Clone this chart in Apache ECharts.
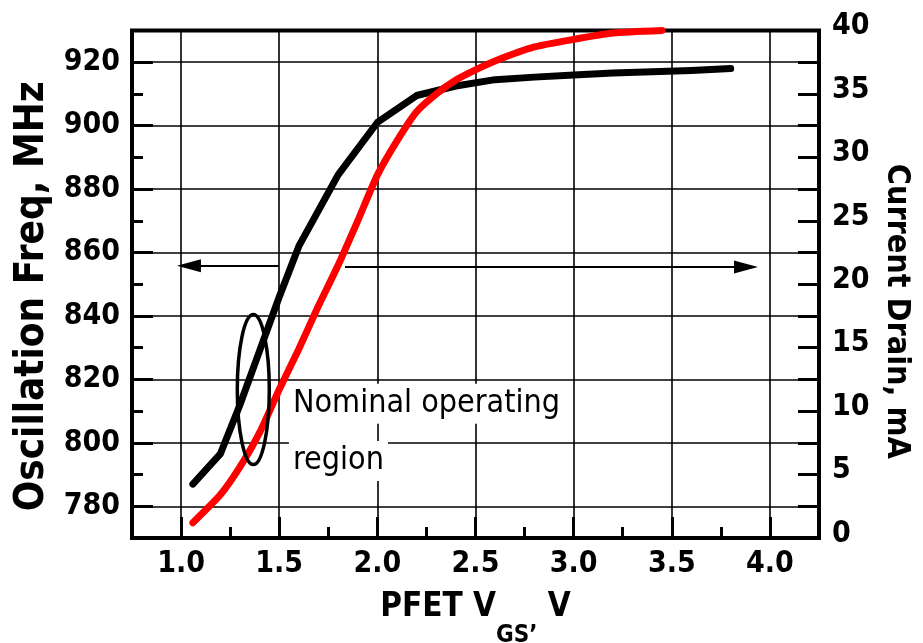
<!DOCTYPE html>
<html>
<head>
<meta charset="utf-8">
<script src="https://cdn.jsdelivr.net/npm/echarts@6/dist/echarts.min.js"></script>
<style>
  html, body { margin: 0; padding: 0; background: #fff; }
  #main { width: 923px; height: 643px; }
</style>
</head>
<body>
<div id="main"></div>
<script>
// oscillation frequency (MHz) vs PFET Vgs (V)
const vgsFreq = [1.06, 1.2, 1.3, 1.4, 1.5, 1.6, 1.8, 2.0, 2.2, 2.4, 2.6, 2.8, 3.0, 3.2, 3.4, 3.6, 3.8];
const freq = [787, 796.5, 812, 829, 846, 862, 884.5, 901, 909.5, 912.5, 914.5, 915.3, 916, 916.6, 917, 917.4, 918];

// current drain (mA) vs PFET Vgs (V)
const vgsCurrent = [1.06, 1.2, 1.3, 1.4, 1.5, 1.6, 1.7, 1.8, 1.9, 2.0, 2.1, 2.2, 2.3, 2.4, 2.5, 2.6, 2.8, 3.0, 3.2, 3.45];
const current = [1.2, 3.4, 5.6, 8.3, 11.7, 14.9, 18.3, 21.5, 25.0, 28.6, 31.3, 33.6, 35.0, 36.1, 36.9, 37.6, 38.7, 39.3, 39.8, 40];

// labelled ticks
const xTicks = [1.0, 1.5, 2.0, 2.5, 3.0, 3.5, 4.0];
const freqTicks = [780, 800, 820, 840, 860, 880, 900, 920];

const FONT = "'DejaVu Sans Condensed', 'DejaVu Sans', sans-serif";

const zip = (xs, ys) => xs.map((x, i) => [x, ys[i]]);

const labelStyle = {
  color: '#000',
  fontFamily: FONT,
  fontWeight: 'bold',
  fontSize: 30
};

const option = {
  animation: false,
  backgroundColor: '#fff',
  grid: {
    left: 132,
    right: 104,
    top: 30.5,
    bottom: 105,
    outerBoundsMode: 'none',
    show: true,
    borderColor: '#000',
    borderWidth: 4
  },
  xAxis: [{
    // minor ticks every 0.25 V
    type: 'value',
    min: 0.75,
    max: 4.25,
    interval: 0.25,
    position: 'bottom',
    axisLine: { show: false },
    axisTick: { inside: true, length: 11, lineStyle: { color: '#000', width: 3 } },
    axisLabel: { show: false },
    splitLine: { show: false }
  }, {
    type: 'value',
    min: 0.75,
    max: 4.25,
    position: 'bottom',
    axisLine: { show: false },
    axisTick: { inside: true, length: 21, customValues: xTicks, lineStyle: { color: '#000', width: 3 } },
    axisLabel: Object.assign({ customValues: xTicks, margin: 11, formatter: v => v.toFixed(1) }, labelStyle),
    splitLine: { show: false },
    name: '{main|PFET V}{sub|GS’}{main| V}',
    nameLocation: 'middle',
    nameGap: 53,
    nameTextStyle: {
      color: '#000',
      rich: {
        main: { fontFamily: FONT, fontWeight: 'bold', fontSize: 33, verticalAlign: 'top' },
        sub: { fontFamily: FONT, fontWeight: 'bold', fontSize: 24, verticalAlign: 'top', padding: [33, 0, 0, 0] }
      }
    }
  }],
  yAxis: [{
    // minor ticks every 10 MHz
    type: 'value',
    min: 770,
    max: 930,
    interval: 10,
    position: 'left',
    axisLine: { show: false },
    axisTick: { inside: true, length: 11, lineStyle: { color: '#000', width: 3 } },
    axisLabel: { show: false },
    splitLine: { show: false }
  }, {
    type: 'value',
    min: 770,
    max: 930,
    position: 'left',
    axisLine: { show: false },
    axisTick: { inside: true, length: 21, customValues: freqTicks, lineStyle: { color: '#000', width: 3 } },
    axisLabel: Object.assign({ customValues: freqTicks, margin: 12 }, labelStyle),
    splitLine: { show: false },
    name: 'Oscillation Freq, MHz',
    nameLocation: 'middle',
    nameRotate: 90,
    nameGap: 78,
    nameTextStyle: {
      color: '#000',
      fontFamily: FONT,
      fontWeight: 'bold',
      fontSize: 40,
      padding: [0, 24, 0, 0]
    }
  }, {
    type: 'value',
    min: 0,
    max: 40,
    interval: 2.5,
    position: 'right',
    axisLine: { show: false },
    axisTick: { inside: true, length: 21, lineStyle: { color: '#000', width: 3 } },
    axisLabel: {
      margin: 13,
      formatter: v => (v % 5 === 0 ? '{n|' + v + '}' : ''),
      rich: {
        n: Object.assign({ padding: [0, 0, 8, 0] }, labelStyle)
      }
    },
    splitLine: { show: false },
    name: 'Current Drain, mA',
    nameLocation: 'middle',
    nameRotate: -90,
    nameGap: 59,
    nameTextStyle: {
      color: '#000',
      fontFamily: FONT,
      fontWeight: 'bold',
      fontSize: 32,
      padding: [0, 0, 0, 54]
    }
  }],
  series: [{
    // grid lines
    type: 'line',
    data: [],
    xAxisIndex: 0,
    yAxisIndex: 0,
    silent: true,
    markLine: {
      z: 1,
      silent: true,
      animation: false,
      symbol: ['none', 'none'],
      label: { show: false },
      lineStyle: { color: '#000', width: 1.6, type: 'solid' },
      data: xTicks.map(v => ({ xAxis: v })).concat(freqTicks.map(v => ({ yAxis: v })))
    }
  }, {
    name: 'Oscillation Freq',
    type: 'line',
    xAxisIndex: 0,
    yAxisIndex: 0,
    z: 3,
    data: zip(vgsFreq, freq),
    showSymbol: false,
    lineStyle: { color: '#000', width: 7, cap: 'round', join: 'round' },
    // arrows pointing each curve to its axis
    markLine: {
      z: 4,
      silent: true,
      animation: false,
      label: { show: false },
      lineStyle: { color: '#000', width: 2, type: 'solid' },
      data: [
        [{ coord: [1.499, 855.85], symbol: 'none' }, { coord: [1.04, 855.85], symbol: 'triangle', symbolSize: [13, 24] }],
        [{ coord: [1.835, 855.4], symbol: 'none' }, { coord: [3.878, 855.4], symbol: 'triangle', symbolSize: [13, 24] }]
      ]
    }
  }, {
    name: 'Current Drain',
    type: 'line',
    xAxisIndex: 0,
    yAxisIndex: 2,
    z: 3,
    data: zip(vgsCurrent, current),
    showSymbol: false,
    smooth: 0.2,
    lineStyle: { color: '#ff0000', width: 7, cap: 'round', join: 'round' }
  }]
};

const chart = echarts.init(document.getElementById('main'));
chart.setOption(option);

// annotation: ellipse around the nominal operating region plus its label
const toPx = (x, y) => chart.convertToPixel({ xAxisIndex: 0, yAxisIndex: 0 }, [x, y]);
const centre = toPx(1.368, 816.8);
const line1 = toPx(1.57, 812.3);
const line2 = toPx(1.57, 794.3);
const noteStyle = {
  font: "32px " + FONT,
  fill: '#000',
  align: 'left',
  verticalAlign: 'middle',
  backgroundColor: '#fff',
  padding: [4, 4, 4, 4]
};

chart.setOption({
  graphic: [{
    type: 'ellipse',
    z: 100,
    shape: { cx: centre[0], cy: centre[1], rx: 16, ry: 75 },
    style: { fill: 'none', stroke: '#000', lineWidth: 3.5 }
  }, {
    type: 'text',
    z: 100,
    x: line1[0] - 4,
    y: line1[1],
    style: Object.assign({ text: 'Nominal operating' }, noteStyle)
  }, {
    type: 'text',
    z: 100,
    x: line2[0] - 4,
    y: line2[1],
    style: Object.assign({ text: 'region' }, noteStyle)
  }]
});
</script>
</body>
</html>
